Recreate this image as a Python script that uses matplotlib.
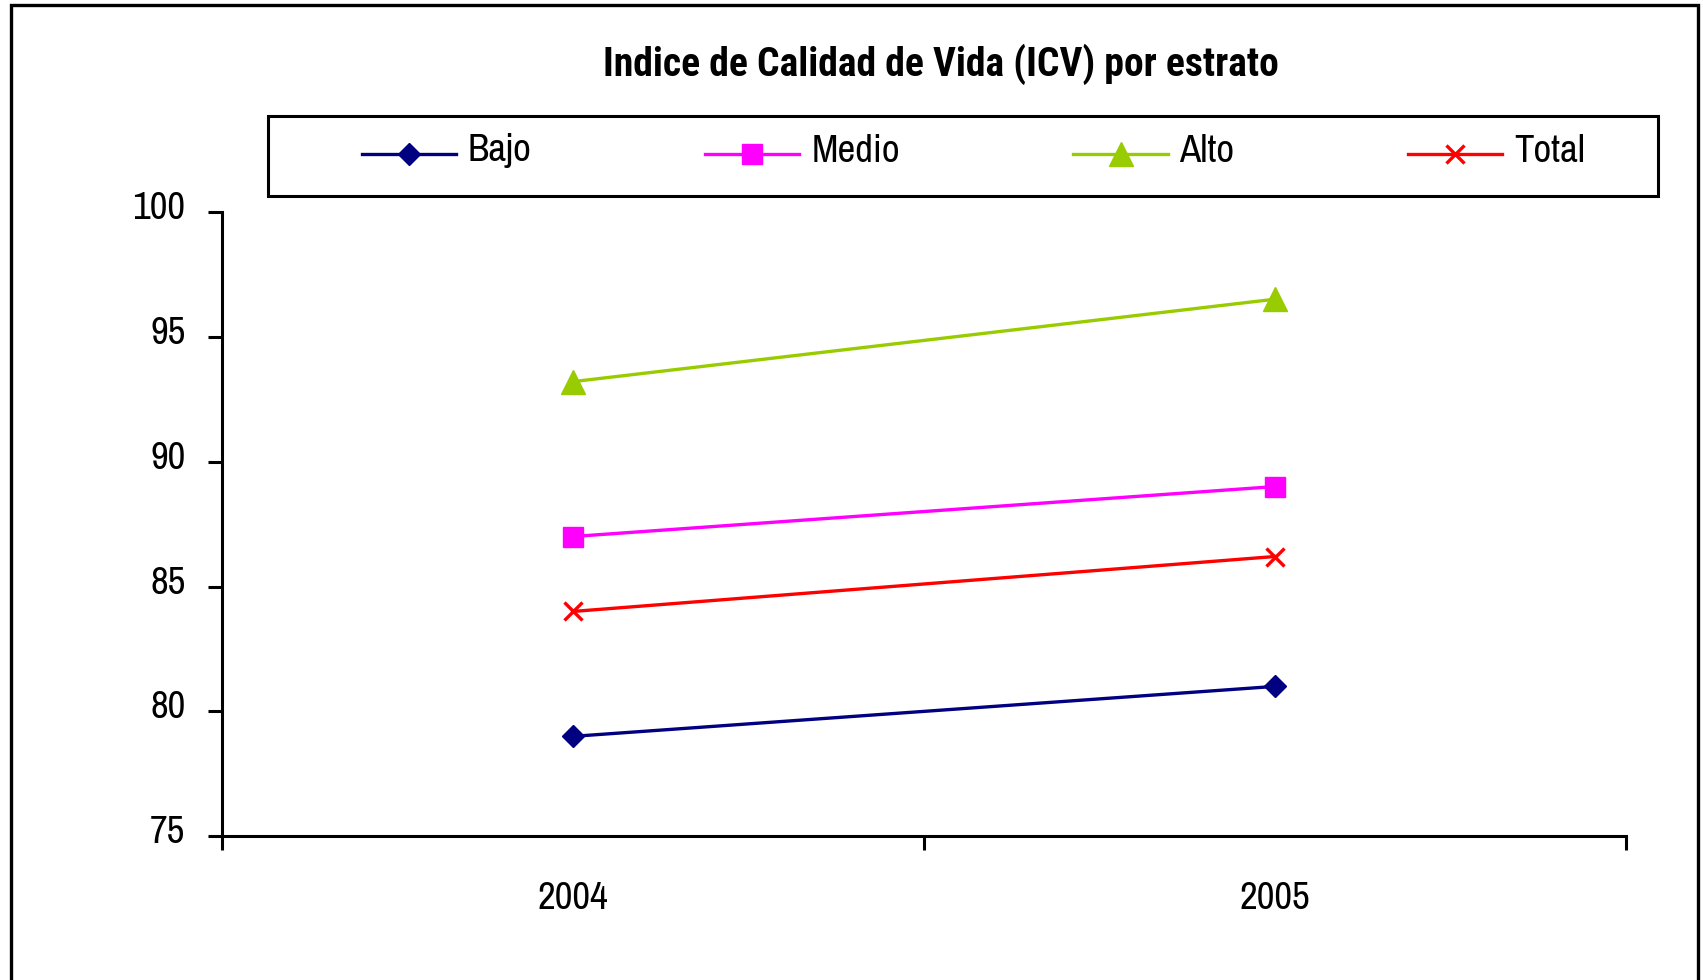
import matplotlib
matplotlib.use("Agg")
import matplotlib.pyplot as plt
from matplotlib.patches import Rectangle
from matplotlib.transforms import ScaledTranslation

years = ["2004", "2005"]
series_names = ["Bajo", "Medio", "Alto", "Total"]
bajo = [79.0, 81.0]
medio = [87.0, 89.0]
alto = [93.2, 96.5]
total = [84.0, 86.2]
yticks = [75, 80, 85, 90, 95, 100]
title = "Indice de Calidad de Vida (ICV) por estrato"

FONT = ["Archivo Narrow", "Roboto Condensed", "Liberation Sans", "DejaVu Sans"]
TFONT = ["Roboto Condensed", "Liberation Sans", "DejaVu Sans"]
plt.rcParams["font.family"] = FONT

fig = plt.figure(figsize=(17.03, 9.80), dpi=100)
W, H = 1703, 980

ax = fig.add_axes([221.6 / W, 1 - 836.3 / H, (1625.7 - 221.6) / W, (836.3 - 211.8) / H])

styles = [
    dict(color="#000080", marker="D", markersize=11.5),
    dict(color="#FF00FF", marker="s", markersize=14),
    dict(color="#99CC00", marker="^", markersize=17),
    dict(color="#FF0000", marker="x", markersize=13, markeredgewidth=2.4),
]
data = [bajo, medio, alto, total]
xs = list(range(1, len(years) + 1))
handles = []
for name, vals, st in zip(series_names, data, styles):
    (h,) = ax.plot(xs, vals, linewidth=2.4, label=name, clip_on=False, **st)
    handles.append(h)

ax.set_xlim(0.5, len(years) + 0.5)
ax.set_ylim(75, 100)
ax.set_yticks(yticks)
ax.set_yticklabels([str(v) for v in yticks])
ax.set_xticks(xs)
ax.set_xticklabels(years)
ax.set_xticks([x + 0.5 for x in range(len(years) + 1)], minor=True)

for s in ["top", "right"]:
    ax.spines[s].set_visible(False)
for s in ["left", "bottom"]:
    ax.spines[s].set_linewidth(2.2)
    ax.spines[s].set_color("black")

ax.tick_params(axis="y", which="major", length=10, width=2.2, direction="out",
               labelsize=28, pad=16)
ax.tick_params(axis="x", which="major", length=0, labelsize=28, pad=32)
ax.tick_params(axis="x", which="minor", length=10, width=2.2, direction="out")

for lab in ax.get_yticklabels():
    lab.set_transform(lab.get_transform() + ScaledTranslation(0, 7 / 100, fig.dpi_scale_trans))

# Title
fig.text(941 / W, 1 - 64 / H, title, ha="center", va="center", fontsize=28.5,
         fontweight="bold", family=TFONT)

# Outer frame
fig.patches.append(Rectangle((11 / W, -0.05), (1698 - 11) / W, 1.05 - 4.5 / H,
                             transform=fig.transFigure, fill=False,
                             edgecolor="black", linewidth=2.4, zorder=0))

# Legend box
fig.patches.append(Rectangle((268 / W, 1 - 196 / H), (1658 - 268) / W, (196 - 116) / H,
                             transform=fig.transFigure, fill=False,
                             edgecolor="black", linewidth=2.2, zorder=1))

leg = fig.legend(handles=handles, labels=series_names, loc="center left",
                 bbox_to_anchor=(362 / W, 1 - 157 / H), bbox_transform=fig.transFigure,
                 ncol=4, frameon=False, fontsize=28, numpoints=1,
                 handlelength=2.42, handletextpad=0.3, columnspacing=4.47,
                 borderpad=0, borderaxespad=0)
for t in leg.get_texts():
    t.set_transform(t.get_transform() + ScaledTranslation(0, 6 / 100, fig.dpi_scale_trans))

fig.savefig("out.png", dpi=100, facecolor="white")
